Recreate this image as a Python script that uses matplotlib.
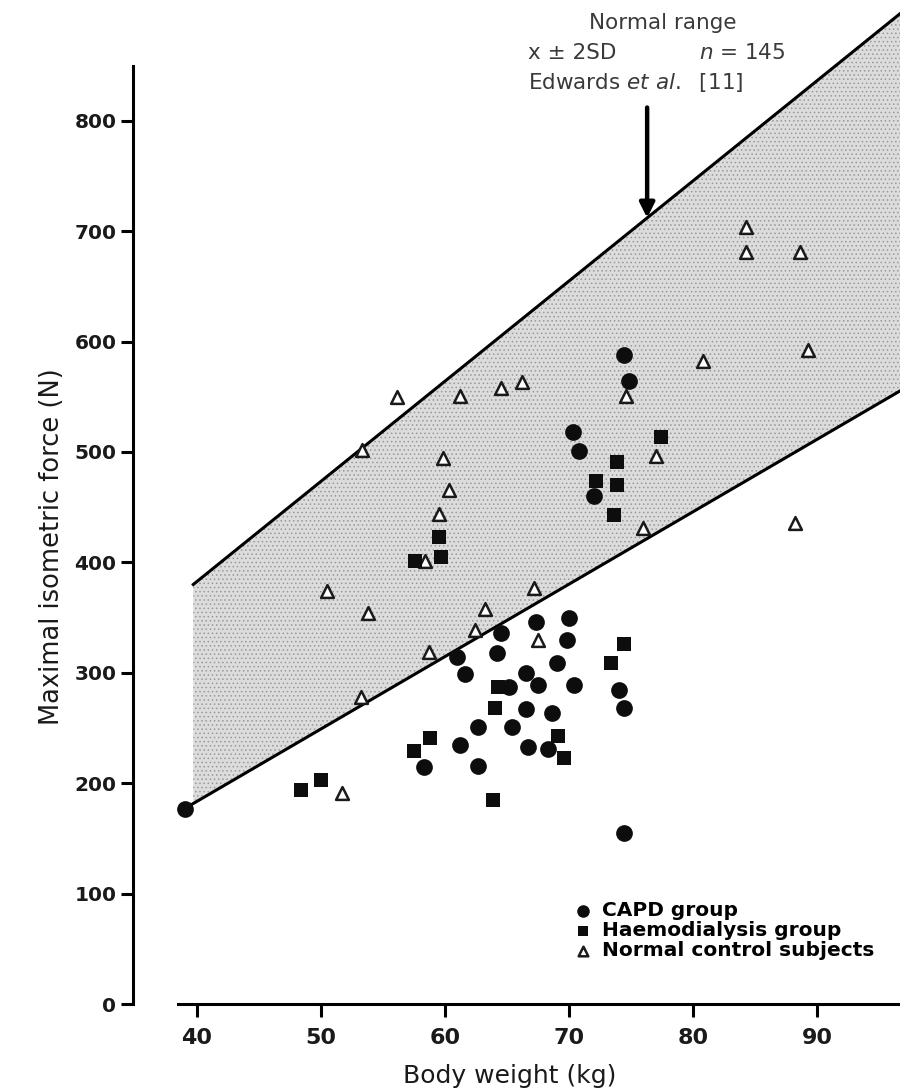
# Package Imports
import numpy as np
import matplotlib
matplotlib.use("Agg")
import matplotlib.pyplot as plt

# Data
# CAPD group (filled circles)
capd_x = [39.0, 67.3, 70.0, 64.5, 69.8, 64.2, 61.0, 61.6, 69.0, 66.5,
          65.2, 67.5, 70.4, 74.0, 74.4, 66.5, 68.6, 62.7, 65.4, 61.2,
          66.7, 68.3, 58.3, 62.7, 74.4, 74.4, 74.8, 70.3, 70.8, 72.0]
capd_y = [177, 346, 350, 336, 330, 318, 314, 299, 309, 300,
          287, 289, 289, 284, 268, 267, 264, 251, 251, 235,
          233, 231, 215, 216, 155, 588, 564, 518, 501, 460]

# Haemodialysis group (filled squares)
haemo_x = [74.4, 73.4, 64.3, 64.0, 58.8, 57.5, 69.1, 69.6, 50.0, 48.4,
           63.9, 77.4, 73.9, 72.2, 73.9, 73.6, 59.5, 59.7, 57.6]
haemo_y = [326, 309, 287, 268, 241, 229, 243, 223, 203, 194,
           185, 514, 491, 474, 470, 443, 423, 405, 401]

# Normal control subjects (open triangles)
normal_x = [50.5, 53.8, 67.2, 63.2, 62.4, 58.7, 53.2, 67.5, 51.7, 56.1,
            61.2, 64.5, 66.2, 74.6, 53.3, 59.8, 60.3, 59.5, 58.4, 77.0,
            76.0, 84.3, 84.3, 88.6, 80.8, 89.3, 88.2]
normal_y = [374, 354, 377, 358, 339, 319, 278, 330, 191, 550,
            551, 558, 563, 551, 502, 495, 466, 444, 401, 496,
            431, 704, 681, 681, 582, 592, 436]

# Normal range band (mean +/- 2SD, Edwards et al.)
upper_x = [39.7, 100.0]
upper_y = [380, 927]
lower_x = [39.0, 100.0]
lower_y = [177, 577]

arrow_x = 76.3

x_ticks = [40, 50, 60, 70, 80, 90]
y_ticks = [0, 100, 200, 300, 400, 500, 600, 700, 800]

legend_labels = ["CAPD group", "Haemodialysis group", "Normal control subjects"]

plt.rcParams["font.family"] = ["DejaVu Sans"]
plt.rcParams["hatch.linewidth"] = 0.6

W, H = 900, 1089
fig = plt.figure(figsize=(W / 100, H / 100), dpi=100)
ax = fig.add_axes([133 / W, (H - 1004) / H, 767 / W, 1004 / H])
ax.set_xlim(34.84, 96.69)
ax.set_ylim(0, 909.4)

# shaded normal range
band_x = np.linspace(upper_x[0], upper_x[-1], 50)
band_hi = np.interp(band_x, upper_x, upper_y)
band_lo = np.interp(band_x, lower_x, lower_y)
ax.fill_between(band_x, band_lo, band_hi, facecolor="#dcdcdc",
                edgecolor="#999999", hatch="....", linewidth=0, zorder=1)
ax.plot(upper_x, upper_y, color="black", lw=2.2, zorder=2)
ax.plot(lower_x, lower_y, color="black", lw=2.2, zorder=2)

# groups
ax.scatter(capd_x, capd_y, s=145, marker="o", color="#0d0d0d",
           linewidths=0, zorder=4, label=legend_labels[0])
ax.scatter(haemo_x, haemo_y, s=95, marker="s", color="#0d0d0d",
           linewidths=0, zorder=4, label=legend_labels[1])
ax.scatter(normal_x, normal_y, s=85, marker="^", facecolor="white",
           edgecolor="#1a1a1a", linewidths=1.8, zorder=3,
           label=legend_labels[2])

# arrow pointing at the upper limit
ax.annotate("", xy=(arrow_x, np.interp(arrow_x, upper_x, upper_y)),
            xytext=(arrow_x, 812),
            arrowprops=dict(arrowstyle="-|>", lw=3.2, color="black",
                            mutation_scale=22, shrinkA=0, shrinkB=0),
            zorder=5)

txt_color = "#3a3a3a"
fig.text(663 / W, 1 - 23 / H, "Normal range", ha="center", va="center",
         fontsize=15.5, color=txt_color)
fig.text(528 / W, 1 - 53 / H, "x ± 2SD", ha="left", va="center",
         fontsize=15.5, color=txt_color)
fig.text(699 / W, 1 - 53 / H, r"$\mathit{n}$ = 145", ha="left", va="center",
         fontsize=15.5, color=txt_color)
fig.text(528 / W, 1 - 82 / H, r"Edwards $\mathit{et\ al.}$  [11]", ha="left",
         va="center", fontsize=15.5, color=txt_color)

# axes styling: detached spines
for side in ["top", "right"]:
    ax.spines[side].set_visible(False)
ax.spines["left"].set_bounds(0, 850)
ax.spines["bottom"].set_bounds(38.5, 96.69)
ax.spines["left"].set_linewidth(2.2)
ax.spines["bottom"].set_linewidth(2.2)

ax.set_xticks(x_ticks)
ax.set_yticks(y_ticks)
ax.tick_params(axis="both", direction="out", length=9, width=2.2)
ax.tick_params(axis="y", labelsize=14.5, pad=3)
ax.tick_params(axis="x", labelsize=16, pad=8)
for lab in ax.get_yticklabels() + ax.get_xticklabels():
    lab.set_fontweight("bold")
    lab.set_color("#1a1a1a")

fig.text(510 / W, 1 - 1076 / H, "Body weight (kg)", ha="center",
         va="center", fontsize=18, color="#1a1a1a")
fig.text(52 / W, 1 - 547 / H, "Maximal isometric force (N)", ha="center",
         va="center", rotation=90, fontsize=18.5, color="#1a1a1a")

leg = ax.legend(loc="upper left", bbox_to_anchor=(574 / W, 1 - 901 / H),
                bbox_transform=fig.transFigure, frameon=False,
                prop=dict(weight="bold", size=14.5), markerscale=0.75,
                handlelength=0.9, handletextpad=0.5, labelspacing=0.05,
                borderpad=0, borderaxespad=0)

fig.savefig("out.png", dpi=100)
